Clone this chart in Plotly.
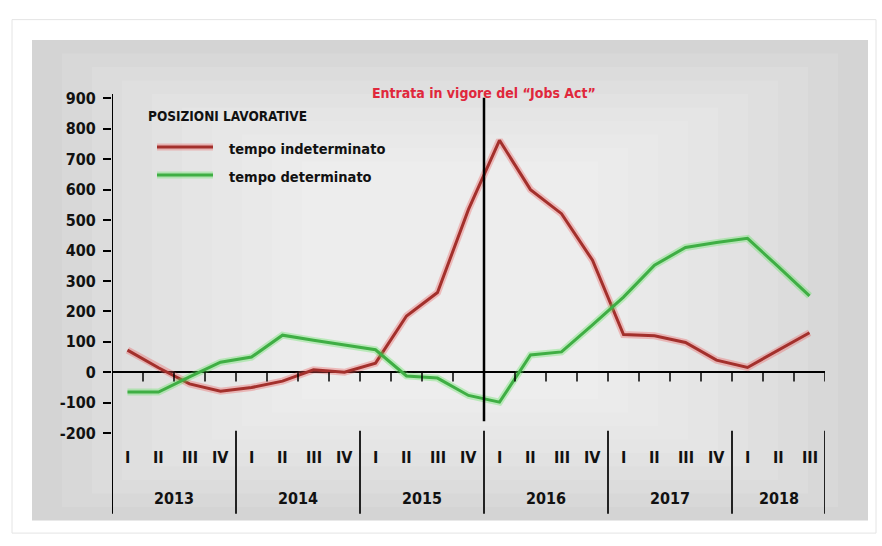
import plotly.graph_objects as go

# --- data -------------------------------------------------------------
years = ["2013", "2014", "2015", "2016", "2017", "2018"]
quarters_per_year = [4, 4, 4, 4, 4, 3]
quarter_names = ["I", "II", "III", "IV"]

tempo_indeterminato = [73, 15, -38, -62, -50, -29, 8, 0, 30, 185, 262, 535,
                       762, 600, 521, 368, 124, 120, 98, 40, 16, 72, 130]
tempo_determinato = [-65, -65, -15, 33, 50, 122, 105, 90, 74, -12, -19, -76,
                     -98, 57, 67, 156, 247, 352, 410, 426, 440, 346, 251]

legend_title = "POSIZIONI LAVORATIVE"
series_names = ["tempo indeterminato", "tempo determinato"]
marker_label = "Entrata in vigore del \u201cJobs Act\u201d"
marker_year = "2016"

y_ticks = list(range(-200, 1000, 100))
y_tick_text = [str(v) for v in y_ticks]

# --- helpers ----------------------------------------------------------
W, H = 882, 546
FONT = "DejaVu Sans Condensed, Liberation Sans Narrow, Arial Narrow, sans-serif"


def px(x):
    return x / W


def py(y):
    return 1 - y / H


quarter_labels = []
for n in quarters_per_year:
    quarter_labels += quarter_names[:n]
xs = [i + 0.5 for i in range(len(quarter_labels))]

bounds = [0]
for n in quarters_per_year:
    bounds.append(bounds[-1] + n)

RED_CORE, RED_HALO = "#a3302c", "rgba(235,90,90,0.35)"
GREEN_CORE, GREEN_HALO = "#3fae44", "rgba(90,225,90,0.35)"

fig = go.Figure()

for vals, core, halo, name in [
    (tempo_indeterminato, RED_CORE, RED_HALO, series_names[0]),
    (tempo_determinato, GREEN_CORE, GREEN_HALO, series_names[1]),
]:
    fig.add_trace(go.Scatter(x=xs, y=vals, mode="lines", name=name,
                             line=dict(color=halo, width=7),
                             hoverinfo="skip", showlegend=False))
    fig.add_trace(go.Scatter(x=xs, y=vals, mode="lines", name=name,
                             line=dict(color=core, width=3),
                             showlegend=False))

shapes = []

# outer frame
shapes.append(dict(type="rect", xref="paper", yref="paper",
                   x0=px(12), x1=px(876), y0=py(543), y1=py(11),
                   line=dict(color="#e4e4e4", width=1), fillcolor="white",
                   layer="below"))
# grey panel with a soft lighter centre
shapes.append(dict(type="rect", xref="paper", yref="paper",
                   x0=px(32), x1=px(868), y0=py(530), y1=py(32),
                   line=dict(width=0), fillcolor="#d4d4d4", layer="below"))
for k in range(1, 10):
    shapes.append(dict(type="rect", xref="paper", yref="paper",
                       x0=px(32 + 30 * k), x1=px(868 - 30 * k),
                       y0=py(530 - 14 * k), y1=py(32 + 14 * k),
                       line=dict(width=0), fillcolor="rgba(255,255,255,0.11)",
                       layer="below"))

# vertical axis line running through the label band
shapes.append(dict(type="line", xref="x", yref="paper", x0=0, x1=0,
                   y0=py(523), y1=py(88), line=dict(color="black", width=2)))

# year separators in the label band
for b in bounds[1:]:
    shapes.append(dict(type="line", xref="x", yref="paper", x0=b, x1=b,
                       y0=py(523), y1=py(437), line=dict(color="#222", width=2)))

# quarter ticks on the zero line
for b in range(1, bounds[-1] + 1):
    shapes.append(dict(type="line", xref="x", yref="y", x0=b, x1=b,
                       y0=0, y1=-30, line=dict(color="black", width=1.5)))

# Jobs Act marker
mx = bounds[years.index(marker_year)]
shapes.append(dict(type="line", xref="x", yref="paper", x0=mx, x1=mx,
                   y0=py(427), y1=py(92), line=dict(color="black", width=2.5)))

# legend samples
for i, (core, halo) in enumerate([(RED_CORE, RED_HALO), (GREEN_CORE, GREEN_HALO)]):
    yy = py(143 + 29 * i)
    shapes.append(dict(type="line", xref="paper", yref="paper",
                       x0=px(157), x1=px(213), y0=yy, y1=yy,
                       line=dict(color=halo, width=7)))
    shapes.append(dict(type="line", xref="paper", yref="paper",
                       x0=px(157), x1=px(213), y0=yy, y1=yy,
                       line=dict(color=core, width=3)))

annotations = []
bold = dict(family=FONT, color="#111", weight="bold")

annotations.append(dict(text=legend_title, xref="paper", yref="paper",
                        x=px(146), y=py(111), xanchor="left", yanchor="middle",
                        showarrow=False, font=dict(size=13.5, **bold)))
for i, name in enumerate(series_names):
    annotations.append(dict(text=name, xref="paper", yref="paper",
                            x=px(227), y=py(145 + 29 * i), xanchor="left",
                            yanchor="middle", showarrow=False,
                            font=dict(size=14.5, **bold)))

annotations.append(dict(text=marker_label, xref="x", yref="paper",
                        x=mx, y=py(87), xanchor="center", yanchor="middle",
                        showarrow=False,
                        font=dict(size=14, family=FONT, color="#e0283c",
                                  weight="bold")))

for x, q in zip(xs, quarter_labels):
    annotations.append(dict(text=q, xref="x", yref="paper", x=x, y=py(465),
                            xanchor="center", yanchor="middle", showarrow=False,
                            font=dict(size=16, **bold)))

for yr, a, b in zip(years, bounds[:-1], bounds[1:]):
    annotations.append(dict(text=yr, xref="x", yref="paper", x=(a + b) / 2,
                            y=py(507), xanchor="center", yanchor="middle",
                            showarrow=False, font=dict(size=16, **bold)))

fig.update_layout(
    width=W, height=H,
    margin=dict(l=0, r=0, t=0, b=0),
    paper_bgcolor="white",
    plot_bgcolor="rgba(0,0,0,0)",
    showlegend=False,
    shapes=shapes,
    annotations=annotations,
    xaxis=dict(domain=[px(112), px(825)], range=[0, bounds[-1]],
               showgrid=False, zeroline=False, showticklabels=False,
               ticks="", fixedrange=True),
    yaxis=dict(domain=[py(439.5), py(92.5)], range=[-200, 900],
               tickvals=y_ticks, ticktext=y_tick_text,
               ticks="outside", ticklen=8, tickwidth=2,
               tickcolor="black", showgrid=False, showline=False,
               zeroline=True, zerolinecolor="black", zerolinewidth=2,
               tickfont=dict(size=16, **bold), ticklabelstandoff=4,
               fixedrange=True),
)

fig.write_html("out.html")
